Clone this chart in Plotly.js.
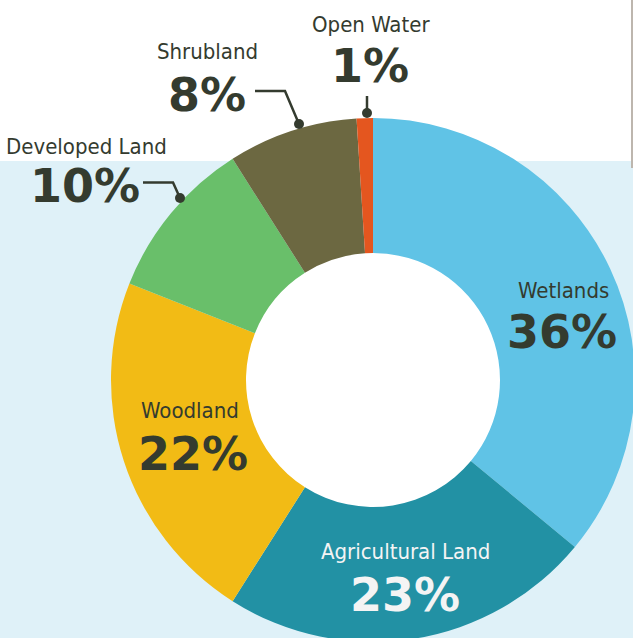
<!DOCTYPE html>
<html>
<head>
<meta charset="utf-8">
<script src="https://cdn.plot.ly/plotly-3.0.1.min.js"></script>
<style>
html,body{margin:0;padding:0;overflow:hidden;background:#ffffff;width:633px;height:638px;}
#chart{position:absolute;left:0;top:0;width:660px;height:660px;}
</style>
</head>
<body>
<div id="chart"></div>
<script>
// Data
const categories = ["Wetlands", "Agricultural Land", "Woodland", "Developed Land", "Shrubland", "Open Water"];
const shares = [36, 23, 22, 10, 8, 1];
const sliceColors = ["#60c3e6", "#2291a4", "#f2bb15", "#69bf6a", "#6c6841", "#e4561f"];
const pctLabels = ["36%", "23%", "22%", "10%", "8%", "1%"];

const W = 660, H = 660;
const px = x => x / W;
const py = y => 1 - y / H;

const cx = 373, cy = 380, R = 262, holeR = 127;

const dark = "#343b2f";
const labelFont = {family: "DejaVu Sans Condensed, Liberation Sans Narrow, sans-serif", size: 22, color: dark};
const pctFont = {family: "DejaVu Sans, sans-serif", size: 46, color: dark, weight: 700};

// label positions (pixel centres) per category
const namePos = [[563, 290], [405, 551], [190, 410], [86, 146], [207, 51], [371, 24]];
const pctPos = [[562, 332], [405, 595], [193, 454], [85, 186], [207, 95], [370, 66]];
const whiteText = [false, true, false, false, false, false];

const annotations = [];
categories.forEach((c, i) => {
  const col = whiteText[i] ? "#f4f4f4" : dark;
  annotations.push({text: c, x: px(namePos[i][0]), y: py(namePos[i][1]), xref: "paper", yref: "paper",
    xanchor: "center", yanchor: "middle", showarrow: false, font: Object.assign({}, labelFont, {color: col})});
  annotations.push({text: pctLabels[i], x: px(pctPos[i][0]), y: py(pctPos[i][1]), xref: "paper", yref: "paper",
    xanchor: "center", yanchor: "middle", showarrow: false, font: Object.assign({}, pctFont, {color: col})});
});

function pathPx(pts) {
  return pts.map((p, i) => (i ? "L" : "M") + px(p[0]) + "," + py(p[1])).join(" ");
}
function dot(x, y, r) {
  return {type: "circle", xref: "paper", yref: "paper", x0: px(x - r), x1: px(x + r), y0: py(y + r), y1: py(y - r),
    fillcolor: dark, line: {width: 0}, layer: "above"};
}

const shapes = [
  {type: "rect", xref: "paper", yref: "paper", x0: 0, x1: 1, y0: 0, y1: py(161), fillcolor: "#dff1f8", line: {width: 0}, layer: "below"},
  {type: "line", xref: "paper", yref: "paper", x0: px(632), x1: px(632), y0: py(0), y1: py(168), line: {color: "#bdb6ae", width: 2}, layer: "below"},
  {type: "circle", xref: "paper", yref: "paper", x0: px(cx - holeR - 1), x1: px(cx + holeR + 1), y0: py(cy + holeR + 1), y1: py(cy - holeR - 1),
    fillcolor: "#ffffff", line: {width: 0}, layer: "below"},
  {type: "path", xref: "paper", yref: "paper", path: pathPx([[367, 96], [367, 113]]), line: {color: dark, width: 2.5}, layer: "above"},
  dot(367, 113, 5),
  {type: "path", xref: "paper", yref: "paper", path: pathPx([[255, 91], [285, 91], [299, 124]]), line: {color: dark, width: 2.5}, layer: "above"},
  dot(299, 124, 5),
  {type: "path", xref: "paper", yref: "paper", path: pathPx([[143, 182.5], [173, 182.5], [180, 198]]), line: {color: dark, width: 2.5}, layer: "above"},
  dot(180, 198, 5)
];

const trace = {
  type: "pie",
  labels: categories,
  values: shares,
  marker: {colors: sliceColors, line: {width: 0}},
  hole: holeR / R,
  sort: false,
  direction: "clockwise",
  rotation: 0,
  textinfo: "none",
  hoverinfo: "none",
  showlegend: false,
  domain: {x: [px(cx - R), px(cx + R)], y: [py(cy + R), py(cy - R)]}
};

Plotly.newPlot("chart", [trace], {
  width: W, height: H,
  margin: {l: 0, r: 0, t: 0, b: 0},
  paper_bgcolor: "#ffffff",
  plot_bgcolor: "rgba(0,0,0,0)",
  showlegend: false,
  shapes: shapes,
  annotations: annotations
}, {displayModeBar: false, staticPlot: true});
</script>
</body>
</html>
